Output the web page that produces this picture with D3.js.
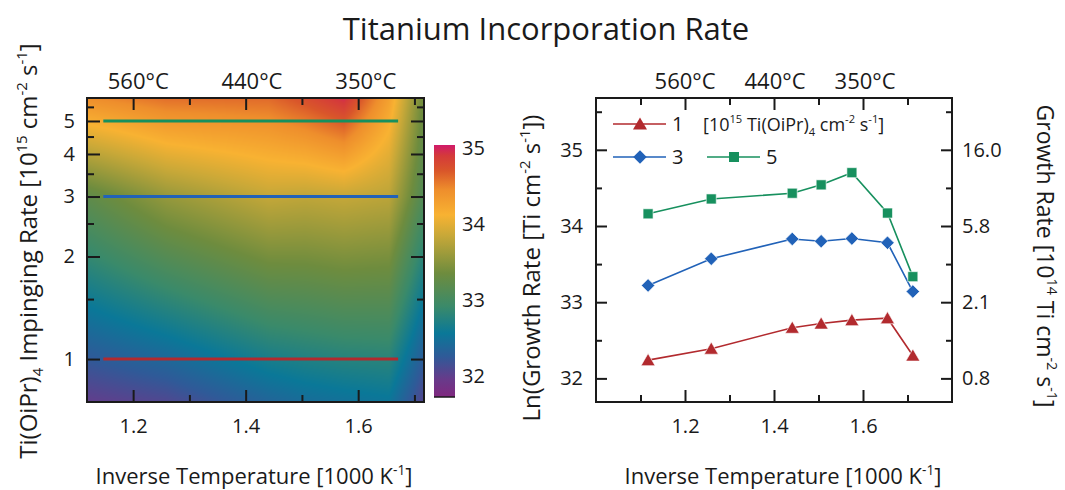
<!DOCTYPE html>
<html>
<head>
<meta charset="utf-8">
<script src="https://cdn.jsdelivr.net/npm/d3@7"></script>
<style>
  body { margin: 0; background: #fff; }
  svg text { font-family: "Open Sans", "Noto Sans", sans-serif; fill: #1a1a1a; }
</style>
</head>
<body>
<svg id="chart" width="1065" height="490"></svg>
<script>
// inverse temperature [1000/K] of the measured points
const invT = [1.117, 1.259, 1.441, 1.506, 1.575, 1.655, 1.712];
// impinging rates [10^15 cm^-2 s^-1]
const rates = [1, 3, 5];
// ln(growth rate) for each impinging rate
const lnRate1 = [32.24, 32.39, 32.665, 32.72, 32.765, 32.79, 32.30];
const lnRate3 = [33.22, 33.57, 33.83, 33.80, 33.835, 33.78, 33.14];
const lnRate5 = [34.16, 34.355, 34.43, 34.54, 34.70, 34.17, 33.335];
const series = [lnRate1, lnRate3, lnRate5];

const tempLabels = [560, 440, 350];              // °C, top axes
const xMajor = [1.2, 1.4, 1.6];
const xMinorL = [1.3, 1.5, 1.7], xMinorR = [1.1, 1.3, 1.5, 1.7];
const yMajorL = [1, 2, 3, 4, 5], yMinorL = [1.5, 2.5, 3.5, 4.5, 5.5];
const yMajorR = [32, 33, 34, 35], yMinorR = [32.5, 33.5, 34.5, 35.5];
const growthLabels = ["0.8", "2.1", "5.8", "16.0"];  // 10^14 Ti cm^-2 s^-1
const cbarTicks = [32, 33, 34, 35];
const guideSpan = [1.147, 1.671];                // extent of the rate guides on the map

const colors = ["#b22a2e", "#2162b8", "#17905e"];
const cmapStops = [[31.72,"#80287f"],[31.95,"#683a8a"],[32.25,"#2f5a98"],[32.56,"#0a7898"],
                   [32.91,"#3a8a6a"],[33.35,"#6e8c3e"],[33.85,"#c8a838"],[34.12,"#f8b232"],
                   [34.45,"#ee8e2c"],[34.7,"#d9562a"],[34.9,"#d43a3a"],[35.04,"#d01a6a"]];

const svg = d3.select("#chart");
const cmap = d3.scaleLinear().domain(cmapStops.map(d=>d[0])).range(cmapStops.map(d=>d[1]))
    .interpolate(d3.interpolateRgb).clamp(true);

// text with sub/superscripts: parts = [[text, ""|"sup"|"sub"], ...]
function rich(sel, parts, fs) {
    let shift = 0;
    parts.forEach(([t, k]) => {
        let target = k=="sup" ? -0.42*fs : k=="sub" ? 0.25*fs : 0;
        sel.append("tspan").text(t)
            .attr("dy", target - shift)
            .attr("font-size", k ? 0.62*fs : fs);
        shift = target;
    });
    return sel;
}

function frameAxes(g, x, y, w, h, xMinor, yMaj, yMin, opt) {
    g.append("g").attr("transform", `translate(0,${h})`)
        .call(d3.axisBottom(x).tickValues(xMajor).tickSize(-12).tickPadding(17).tickFormat(d3.format(".1f")))
        .call(a => a.select(".domain").remove());
    g.append("g").attr("transform", `translate(0,${h})`)
        .call(d3.axisBottom(x).tickValues(xMinor).tickSize(-7).tickFormat(""))
        .call(a => a.select(".domain").remove());
    g.append("g").call(d3.axisTop(x).tickValues(xMajor).tickSize(-12).tickFormat(""))
        .call(a => a.select(".domain").remove());
    g.append("g").call(d3.axisTop(x).tickValues(xMinor).tickSize(-7).tickFormat(""))
        .call(a => a.select(".domain").remove());
    g.append("g").call(d3.axisLeft(y).tickValues(yMaj).tickSize(-opt.maj).tickPadding(opt.pad).tickFormat(opt.fmt))
        .call(a => a.select(".domain").remove());
    g.append("g").call(d3.axisLeft(y).tickValues(yMin).tickSize(-opt.min).tickFormat(""))
        .call(a => a.select(".domain").remove());
    g.append("g").attr("transform", `translate(${w},0)`)
        .call(d3.axisRight(y).tickValues(yMaj).tickSize(-opt.maj).tickPadding(opt.padR || 0)
            .tickFormat(opt.fmtR || ""))
        .call(a => a.select(".domain").remove());
    g.append("g").attr("transform", `translate(${w},0)`)
        .call(d3.axisRight(y).tickValues(yMin).tickSize(-opt.min).tickFormat(""))
        .call(a => a.select(".domain").remove());
    g.selectAll(".tick line").attr("stroke", "#1a1a1a").attr("stroke-width", 2);
    g.selectAll(".tick text").attr("font-size", 20).attr("font-family", null).attr("fill", "#1a1a1a");
    g.append("rect").attr("width", w).attr("height", h)
        .attr("fill", "none").attr("stroke", "#1a1a1a").attr("stroke-width", 2);
    // temperature labels on top
    g.append("g").selectAll("text").data(tempLabels).enter().append("text")
        .attr("x", d => x(1000/(d+273.15)) + opt.tdx).attr("y", -9)
        .attr("text-anchor", "middle").attr("font-size", 22)
        .text(d => d + "°C");
}

function valueAt(xv, rate) {
    var vals = series.map(s => {
        var i = d3.bisectLeft(invT, xv);
        if (i <= 0) return s[0];
        if (i >= invT.length) return s[invT.length-1];
        var t = (xv - invT[i-1])/(invT[i]-invT[i-1]);
        return s[i-1] + t*(s[i]-s[i-1]);
    });
    var lr = Math.log(rate), l = rates.map(Math.log);
    var j = lr < l[1] ? 0 : 1;
    var t = (lr - l[j])/(l[j+1]-l[j]);
    return vals[j] + t*(vals[j+1]-vals[j]);
}

// ---------------- left: map ----------------
(function() {
    var L = 87, T = 98, w = 337, h = 304;
    var g = svg.append("g").attr("transform", `translate(${L},${T})`);
    var x = d3.scaleLinear().domain([1.118, 1.717]).range([0, w]);
    var y = d3.scaleLog().domain([0.748, 5.84]).range([h, 0]);

    var cv = document.createElement("canvas");
    cv.width = w; cv.height = h;
    var ctx = cv.getContext("2d"), img = ctx.createImageData(w, h);
    for (var py = 0; py < h; py++) {
        var r = y.invert(py + 0.5);
        for (var px = 0; px < w; px++) {
            var c = d3.rgb(cmap(valueAt(x.invert(px + 0.5), r)));
            var k = 4*(py*w + px);
            img.data[k] = c.r; img.data[k+1] = c.g; img.data[k+2] = c.b; img.data[k+3] = 255;
        }
    }
    ctx.putImageData(img, 0, 0);
    g.append("image").attr("width", w).attr("height", h).attr("href", cv.toDataURL());

    g.selectAll(".guide").data(rates).enter().append("line").attr("class", "guide")
        .attr("x1", x(guideSpan[0])).attr("x2", x(guideSpan[1]))
        .attr("y1", d => y(d)).attr("y2", d => y(d))
        .attr("stroke", (d,i) => colors[i]).attr("stroke-width", 3);

    frameAxes(g, x, y, w, h, xMinorL, yMajorL, yMinorL,
        { maj: 13, min: 7, pad: 12, fmt: d3.format("d"), tdx: 5 });

    rich(g.append("text").attr("transform", `translate(-50,${h/2+1}) rotate(-90)`)
        .attr("text-anchor", "middle"),
        [["Ti(OiPr)",""],["4","sub"],[" Impinging Rate [10",""],["15","sup"],[" cm",""],["-2","sup"],
         [" s",""],["-1","sup"],["]",""]], 24);
    rich(g.append("text").attr("x", 167).attr("y", h + 82).attr("text-anchor", "middle"),
        [["Inverse Temperature [1000 K",""],["-1","sup"],["]",""]], 22);

    // colour bar
    var cb = svg.append("g").attr("transform", "translate(434,0)");
    var cy = d3.scaleLinear().domain([31.72, 35.04]).range([397, 145]);
    var grad = svg.append("defs").append("linearGradient").attr("id", "cbar")
        .attr("x1", 0).attr("x2", 0).attr("y1", 1).attr("y2", 0);
    grad.selectAll("stop").data(cmapStops).enter().append("stop")
        .attr("offset", d => (d[0]-31.72)/(35.04-31.72))
        .attr("stop-color", d => d[1]);
    cb.append("rect").attr("y", cy(35.04)).attr("width", 21).attr("height", cy(31.72)-cy(35.04))
        .attr("fill", "url(#cbar)");
    cb.append("line").attr("x1", 0).attr("x2", 21).attr("y1", cy(31.72)).attr("y2", cy(31.72))
        .attr("stroke", "#1a1a1a").attr("stroke-width", 1.5);
    cb.selectAll(".cl").data(cbarTicks).enter().append("text")
        .attr("x", 28).attr("y", d => cy(d)).attr("dy", "0.36em")
        .attr("font-size", 20).text(d => d);
})();

// ---------------- right: growth rate ----------------
(function() {
    var L = 596, T = 98, w = 356, h = 304;
    var g = svg.append("g").attr("transform", `translate(${L},${T})`);
    var x = d3.scaleLinear().domain([1.0, 1.8]).range([0, w]);
    var y = d3.scaleLinear().domain([31.69, 35.68]).range([h, 0]);

    frameAxes(g, x, y, w, h, xMinorR, yMajorR, yMinorR,
        { maj: 11, min: 6, pad: 13, fmt: d3.format("d"), padR: 10,
          fmtR: (d,i) => growthLabels[i], tdx: 0 });

    var line = d3.line().x((d,i) => x(invT[i])).y(d => y(d));
    var shapes = [d3.symbolTriangle, d3.symbolSquare, d3.symbolSquare];
    var sizes = [85, 90, 100], rot = [0, 45, 0];
    series.forEach((s, k) => {
        g.append("path").datum(s).attr("d", line)
            .attr("fill", "none").attr("stroke", colors[k]).attr("stroke-width", 1.6);
        g.selectAll(".m" + k).data(s).enter().append("path").attr("class", "m" + k)
            .attr("transform", (d,i) => `translate(${x(invT[i])},${y(d) + (k==0 ? 1.5 : 0)}) rotate(${rot[k]})`)
            .attr("d", d3.symbol(shapes[k], sizes[k]))
            .attr("fill", colors[k]).attr("stroke", "#fff").attr("stroke-width", 0.6);
    });

    // legend
    var leg = g.append("g");
    var items = [{k:0, x:17, y:26, lab:"1"}, {k:1, x:17, y:59, lab:"3"}, {k:2, x:111, y:59, lab:"5"}];
    items.forEach(it => {
        leg.append("line").attr("x1", it.x).attr("x2", it.x + 53).attr("y1", it.y).attr("y2", it.y)
            .attr("stroke", colors[it.k]).attr("stroke-width", 1.6);
        leg.append("path").attr("transform", `translate(${it.x + 27},${it.y + (it.k==0 ? 1.5 : 0)}) rotate(${rot[it.k]})`)
            .attr("d", d3.symbol(shapes[it.k], sizes[it.k])).attr("fill", colors[it.k]);
        leg.append("text").attr("x", it.x + 59).attr("y", it.y + 7)
            .attr("font-size", 20).text(it.lab);
    });
    rich(leg.append("text").attr("x", 107).attr("y", 33),
        [["[10",""],["15","sup"],[" Ti(OiPr)",""],["4","sub"],[" cm",""],["-2","sup"],[" s",""],["-1","sup"],["]",""]], 18);

    rich(g.append("text").attr("transform", `translate(-56,${h/2+18}) rotate(-90)`)
        .attr("text-anchor", "middle"),
        [["Ln(Growth Rate [Ti cm",""],["-2","sup"],[" s",""],["-1","sup"],["])",""]], 24);
    rich(g.append("text").attr("transform", `translate(${w+85},${h/2+6}) rotate(90)`)
        .attr("text-anchor", "middle"),
        [["Growth Rate [10",""],["14","sup"],[" Ti cm",""],["-2","sup"],[" s",""],["-1","sup"],["]",""]], 23);
    rich(g.append("text").attr("x", 187).attr("y", h + 82).attr("text-anchor", "middle"),
        [["Inverse Temperature [1000 K",""],["-1","sup"],["]",""]], 22);
})();

svg.append("text").attr("x", 546).attr("y", 40).attr("text-anchor", "middle")
    .attr("font-size", 31).text("Titanium Incorporation Rate");
</script>
</body>
</html>
